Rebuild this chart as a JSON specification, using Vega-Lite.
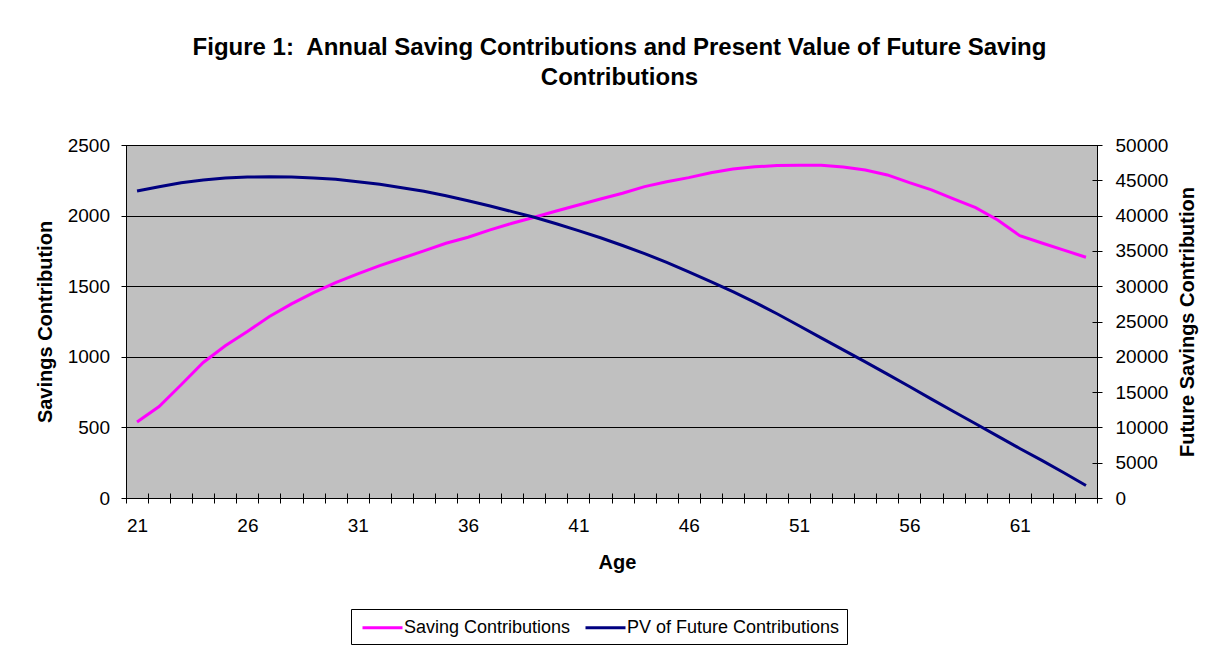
{
  "$schema": "https://vega.github.io/schema/vega-lite/v6.json",
  "width": 971,
  "height": 353,
  "autosize": {"type": "none"},
  "padding": {"left": 126, "top": 145, "right": 134, "bottom": 162},
  "background": "white",
  "title": {
    "text": ["Figure 1:\u00a0 Annual Saving Contributions and Present Value of Future Saving", "Contributions"],
    "font": "Liberation Sans",
    "fontSize": 24,
    "fontWeight": "bold",
    "color": "black",
    "anchor": "middle",
    "frame": "group",
    "lineHeight": 30,
    "offset": 46,
    "dx": 8
  },
  "data": {
    "values": [
      {"age": 21, "saving": 538, "pv": 43480},
      {"age": 22, "saving": 648, "pv": 44090},
      {"age": 23, "saving": 802, "pv": 44660},
      {"age": 24, "saving": 960, "pv": 45040},
      {"age": 25, "saving": 1078, "pv": 45320},
      {"age": 26, "saving": 1179, "pv": 45460},
      {"age": 27, "saving": 1285, "pv": 45510},
      {"age": 28, "saving": 1375, "pv": 45460},
      {"age": 29, "saving": 1455, "pv": 45320},
      {"age": 30, "saving": 1526, "pv": 45140},
      {"age": 31, "saving": 1587, "pv": 44800},
      {"age": 32, "saving": 1646, "pv": 44430},
      {"age": 33, "saving": 1698, "pv": 43950},
      {"age": 34, "saving": 1750, "pv": 43440},
      {"age": 35, "saving": 1804, "pv": 42820},
      {"age": 36, "saving": 1847, "pv": 42110},
      {"age": 37, "saving": 1899, "pv": 41360},
      {"age": 38, "saving": 1946, "pv": 40560},
      {"age": 39, "saving": 1988, "pv": 39760},
      {"age": 40, "saving": 2033, "pv": 38850},
      {"age": 41, "saving": 2075, "pv": 37880},
      {"age": 42, "saving": 2118, "pv": 36860},
      {"age": 43, "saving": 2158, "pv": 35770},
      {"age": 44, "saving": 2205, "pv": 34620},
      {"age": 45, "saving": 2240, "pv": 33380},
      {"age": 46, "saving": 2269, "pv": 32040},
      {"age": 47, "saving": 2304, "pv": 30660},
      {"age": 48, "saving": 2330, "pv": 29220},
      {"age": 49, "saving": 2346, "pv": 27720},
      {"age": 50, "saving": 2354, "pv": 26100},
      {"age": 51, "saving": 2356, "pv": 24400},
      {"age": 52, "saving": 2356, "pv": 22680},
      {"age": 53, "saving": 2344, "pv": 20980},
      {"age": 54, "saving": 2323, "pv": 19290},
      {"age": 55, "saving": 2288, "pv": 17550},
      {"age": 56, "saving": 2233, "pv": 15790},
      {"age": 57, "saving": 2182, "pv": 14010},
      {"age": 58, "saving": 2118, "pv": 12260},
      {"age": 59, "saving": 2056, "pv": 10510},
      {"age": 60, "saving": 1969, "pv": 8770},
      {"age": 61, "saving": 1858, "pv": 7020},
      {"age": 62, "saving": 1806, "pv": 5320},
      {"age": 63, "saving": 1755, "pv": 3580},
      {"age": 64, "saving": 1705, "pv": 1780}
    ]
  },
  "encoding": {
    "x": {
      "field": "age",
      "type": "quantitative",
      "scale": {"domain": [20.5, 64.5], "nice": false, "zero": false},
      "axis": {
        "title": "Age",
        "titleFontSize": 20,
        "titleFontWeight": "bold",
        "titleX": 491,
        "titleY": 75,
        "titleBaseline": "alphabetic",
        "titleAlign": "center",
        "values": [20.5, 21, 21.5, 22.5, 23.5, 24.5, 25.5, 26, 26.5, 27.5, 28.5, 29.5, 30.5, 31, 31.5, 32.5, 33.5, 34.5, 35.5, 36, 36.5, 37.5, 38.5, 39.5, 40.5, 41, 41.5, 42.5, 43.5, 44.5, 45.5, 46, 46.5, 47.5, 48.5, 49.5, 50.5, 51, 51.5, 52.5, 53.5, 54.5, 55.5, 56, 56.5, 57.5, 58.5, 59.5, 60.5, 61, 61.5, 62.5, 63.5, 64.5],
        "labelExpr": "datum.value % 1 == 0 ? '' + datum.value : ''",
        "tickOpacity": {"condition": {"test": "datum.value % 1 == 0", "value": 0}, "value": 1},
        "offset": -5,
        "tickSize": 10,
        "domain": false,
        "grid": false,
        "labelPadding": 13,
        "labelOverlap": false,
        "labelFlush": false
      }
    }
  },
  "layer": [
    {
      "mark": {"type": "line", "strokeWidth": 3},
      "encoding": {
        "y": {
          "field": "saving",
          "type": "quantitative",
          "scale": {"domain": [0, 2500], "nice": false},
          "axis": {
            "title": "Savings Contribution",
            "orient": "left",
            "format": "d",
            "values": [0, 500, 1000, 1500, 2000, 2500],
            "offset": -5,
            "tickSize": 10,
            "domain": false,
            "grid": true,
            "gridColor": "black",
            "gridOpacity": 1,
            "gridWidth": 1,
            "labelPadding": 11.5,
            "titleFontSize": 20,
            "titleFontWeight": "bold",
            "titleAngle": -90,
            "titleX": -80,
            "titleY": 176.5,
            "titleBaseline": "alphabetic",
            "titleAlign": "center"
          }
        },
        "color": {
          "datum": "Saving Contributions",
          "type": "nominal",
          "scale": {"domain": ["Saving Contributions", "PV of Future Contributions"], "range": ["#FF00FF", "#000080"]},
          "legend": {
            "orient": "none",
            "legendX": 225,
            "legendY": 464,
            "direction": "horizontal",
            "title": null,
            "strokeColor": "black",
            "fillColor": "white",
            "padding": 7,
            "symbolType": "M-2,0H2",
            "symbolSize": 400,
            "symbolStrokeWidth": 3,
            "symbolOffset": 13,
            "labelOffset": 10,
            "labelLimit": 400,
            "columnPadding": 8,
            "labelFontSize": 18,
            "labelColor": "black"
          }
        }
      }
    },
    {
      "mark": {"type": "line", "strokeWidth": 3},
      "encoding": {
        "y": {
          "field": "pv",
          "type": "quantitative",
          "scale": {"domain": [0, 50000], "nice": false},
          "axis": {
            "title": "Future Savings Contribution",
            "orient": "right",
            "format": "d",
            "values": [0, 5000, 10000, 15000, 20000, 25000, 30000, 35000, 40000, 45000, 50000],
            "offset": -5,
            "tickSize": 10,
            "domain": false,
            "grid": false,
            "labelPadding": 13,
            "titleFontSize": 20,
            "titleFontWeight": "bold",
            "titleAngle": -90,
            "titleX": 101,
            "titleY": 176.5,
            "titleBaseline": "alphabetic",
            "titleAlign": "center"
          }
        },
        "color": {"datum": "PV of Future Contributions", "type": "nominal"}
      }
    }
  ],
  "resolve": {"scale": {"y": "independent"}},
  "config": {
    "font": "Liberation Sans",
    "view": {"fill": "#C0C0C0", "stroke": "black", "strokeWidth": 1},
    "axis": {
      "labelFont": "Liberation Sans",
      "labelFontSize": 19,
      "labelColor": "black",
      "titleFont": "Liberation Sans",
      "titleColor": "black",
      "tickColor": "black",
      "tickWidth": 1
    },
    "legend": {"labelFont": "Liberation Sans"}
  }
}
